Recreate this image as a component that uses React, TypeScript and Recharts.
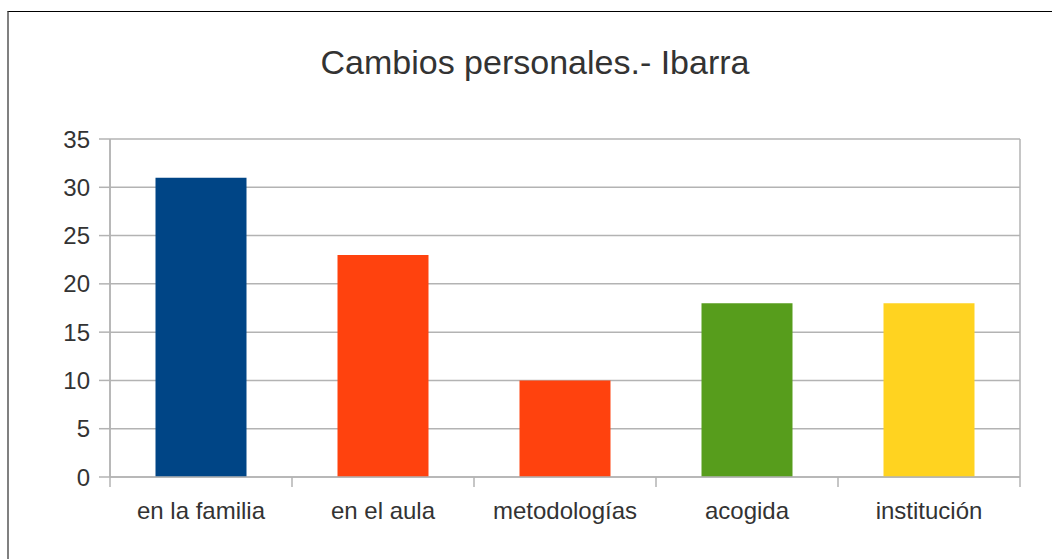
import React from 'react';
import { BarChart, Bar, XAxis, YAxis, CartesianGrid, Cell } from 'recharts';

const categories = ['en la familia', 'en el aula', 'metodologías', 'acogida', 'institución'];
const values = [31, 23, 10, 18, 18];
const barColors = ['#004586', '#ff420e', '#ff420e', '#579d1c', '#ffd320'];
const yTicks = [0, 5, 10, 15, 20, 25, 30, 35];

const data = categories.map((name, i) => ({ name, value: values[i] }));

const FONT = '"Liberation Sans", Arial, sans-serif';
const GRID = '#b3b3b3';

// category label plus the small divider marks between categories
function CategoryTick(props: any) {
  const { x, y, payload, index } = props;
  const half = payload && payload.offset ? payload.offset : 91;
  const axisY = y - 25;
  return (
    <g>
      <line x1={x - half} x2={x - half} y1={axisY} y2={axisY + 10} stroke={GRID} strokeWidth={1.5} />
      {index === categories.length - 1 && (
        <line x1={x + half} x2={x + half} y1={axisY} y2={axisY + 10} stroke={GRID} strokeWidth={1.5} />
      )}
      <text x={x} y={y} dy="0.71em" textAnchor="middle" fill="#333" fontSize={24} fontFamily={FONT}>
        {payload.value}
      </text>
    </g>
  );
}

export default function App() {
  return (
    <div style={{ position: 'absolute', left: 0, top: 0, width: 1052, height: 559, background: '#fff', overflow: 'hidden' }}>
      <div
        style={{
          position: 'absolute',
          left: 7,
          top: 11,
          width: 1100,
          height: 600,
          borderTop: '1px solid #000',
          borderLeft: '2px solid #808080',
        }}
      />
      <div
        style={{
          position: 'absolute',
          left: 0,
          width: 1070,
          top: 42,
          textAlign: 'center',
          fontFamily: FONT,
          fontSize: 34,
          color: '#333',
          lineHeight: '40px',
        }}
      >
        Cambios personales.- Ibarra
      </div>
      <div style={{ position: 'absolute', left: 0, top: 0 }}>
        <BarChart
          width={1052}
          height={559}
          data={data}
          margin={{ top: 139, right: 32, bottom: 0, left: 10 }}
          barCategoryGap="25%"
        >
          <CartesianGrid
            stroke={GRID}
            strokeWidth={1.5}
            verticalCoordinatesGenerator={({ offset }: any) => [offset.left, offset.left + offset.width]}
          />
          <XAxis
            dataKey="name"
            tickLine={false}
            axisLine={{ stroke: GRID, strokeWidth: 1.5 }}
            tickSize={6}
            tickMargin={19}
            tick={<CategoryTick />}
            height={82}
            interval={0}
          />
          <YAxis
            domain={[0, 35]}
            ticks={yTicks}
            width={100}
            tickSize={11}
            tickMargin={9}
            tickLine={{ stroke: GRID, strokeWidth: 1.5 }}
            axisLine={{ stroke: GRID, strokeWidth: 1.5 }}
            tick={{ fill: '#333', fontSize: 24, fontFamily: FONT }}
            interval={0}
          />
          <Bar dataKey="value" isAnimationActive={false}>
            {data.map((d, i) => (
              <Cell key={d.name} fill={barColors[i]} />
            ))}
          </Bar>
        </BarChart>
      </div>
    </div>
  );
}
